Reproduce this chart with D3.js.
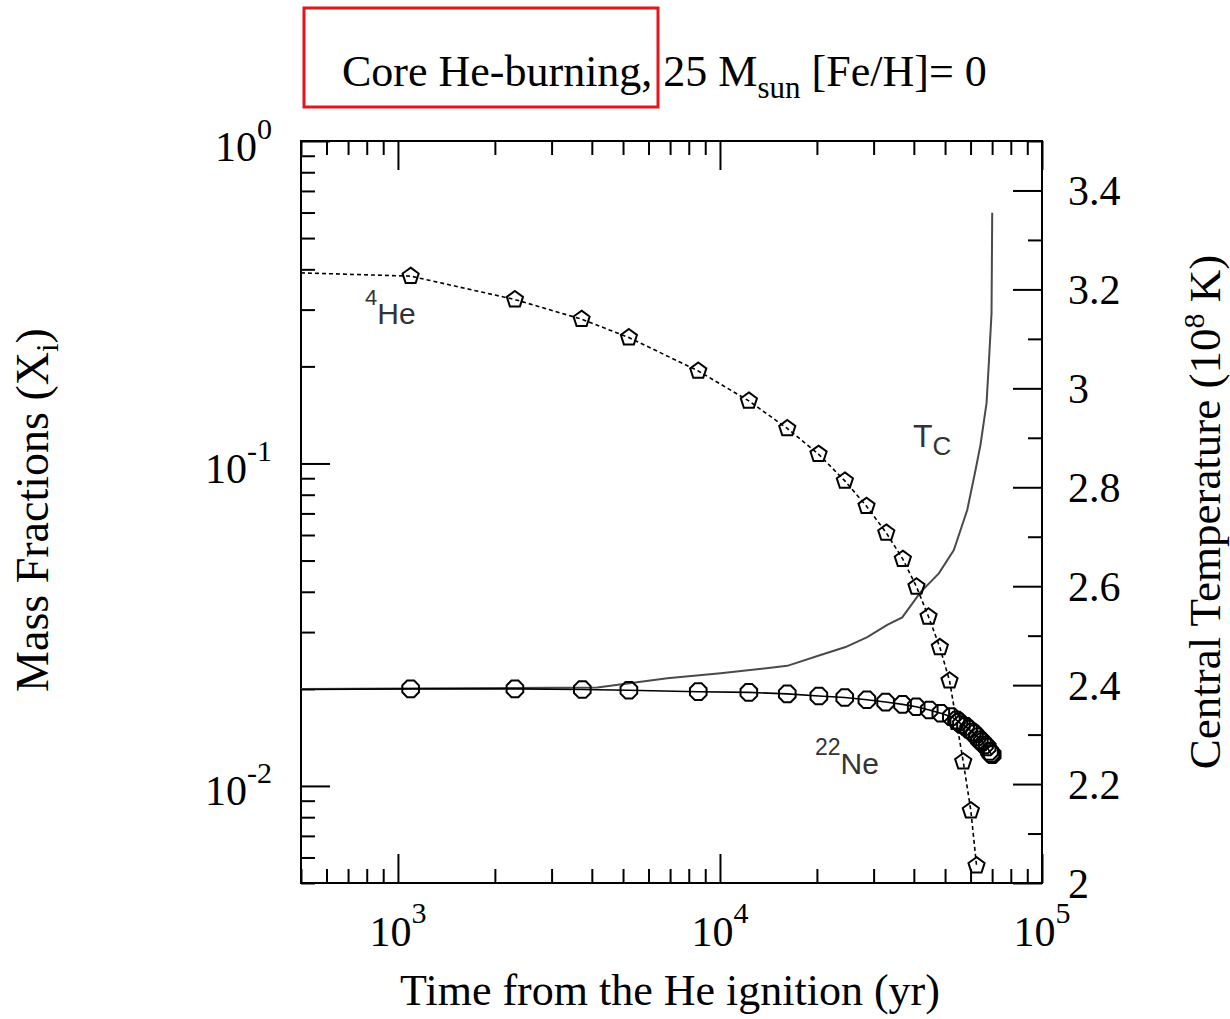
<!DOCTYPE html>
<html>
<head>
<meta charset="utf-8">
<script src="https://cdn.jsdelivr.net/npm/d3@7"></script>
<style>
  body { margin: 0; background: #fff; }
  svg { display: block; background: #fff; }
  .serif { font-family: "Liberation Serif", "Times New Roman", serif; fill: #000; }
  .sans { font-family: "Liberation Sans", Arial, sans-serif; fill: #333; }
  .tick line { stroke: #000; stroke-width: 2; }
  .tick text { display: none; }
</style>
</head>
<body>
<svg id="chart"></svg>
<script>
// values (time in yr)
var heTime = [500, 1095, 2308, 3718, 5214, 8562, 12294, 16181, 20233, 24425, 28521,
  32841, 36968, 40765, 44434, 48170, 51620, 54280, 56940, 60120, 62620];
var heFrac = [0.390, 0.381, 0.3224, 0.2802, 0.2458, 0.1936, 0.1563, 0.1284, 0.1069, 0.0883, 0.0737,
  0.0609, 0.0505, 0.04145, 0.03346, 0.0269, 0.0212, 0.01578, 0.01189, 0.00838, 0.00566];

var neTime = [500, 1095, 2308, 3737, 5214, 8562, 12294, 16181, 20280, 24400, 28590,
  32680, 36890, 40680, 44650, 48510, 52290, 54280, 55170, 56200, 57880, 59150, 60720,
  61700, 62930, 63900, 65220, 66300, 67590, 68700, 69400, 70050];
var neFrac = [0.0199, 0.0200, 0.0200, 0.0199, 0.0198, 0.0196, 0.0195, 0.0193, 0.0190, 0.0188, 0.0185,
  0.0182, 0.0179, 0.0176, 0.0172, 0.0168, 0.0164, 0.0160, 0.0158, 0.0155, 0.0153, 0.0150, 0.0147,
  0.0145, 0.0142, 0.0139, 0.0137, 0.0134, 0.0132, 0.0128, 0.0126, 0.0125];

var tcTime = [500, 4159, 6861, 10044, 16181, 20530, 24550, 28670, 33070, 36810,
  41970, 47830, 53240, 58590, 62170, 64420, 67260, 68380, 69710, 70050];
var tcTemp = [2.392, 2.395, 2.414, 2.424, 2.439, 2.461, 2.477, 2.497, 2.522, 2.537,
  2.588, 2.626, 2.673, 2.754, 2.835, 2.886, 2.970, 3.051, 3.152, 3.355];

var xMajor = [1e3, 1e4, 1e5];
var xExp = ["3", "4", "5"];
var yMajor = [1, 0.1, 0.01];
var yExp = ["0", "-1", "-2"];
var tMajor = [2, 2.2, 2.4, 2.6, 2.8, 3, 3.2, 3.4];
var tLabels = ["2", "2.2", "2.4", "2.6", "2.8", "3", "3.2", "3.4"];

var width = 1230, height = 1019;
var plot = { left: 301, right: 1042, top: 141, bottom: 883 };

var svg = d3.select("#chart")
  .attr("width", width)
  .attr("height", height);

var x = d3.scaleLog().domain([500, 1e5]).range([plot.left, plot.right]);
var y = d3.scaleLog().domain([0.005, 1]).range([plot.bottom, plot.top]);
var yT = d3.scaleLinear().domain([2, 3.5]).range([plot.bottom, plot.top]);

function isDecade(v) {
  var l = Math.log10(v);
  return Math.abs(l - Math.round(l)) < 1e-6;
}
var xMinor = x.ticks().filter(function(v) { return !isDecade(v); });
var yMinor = y.ticks().filter(function(v) { return !isDecade(v); });
var tMinor = yT.ticks(15).filter(function(v) { return Math.round(v * 10) % 2 !== 0; });

function addAxis(axis, tx, ty) {
  var g = svg.append("g")
    .attr("transform", "translate(" + tx + "," + ty + ")")
    .call(axis);
  g.select(".domain").remove();
}

// inside ticks on all four sides
addAxis(d3.axisBottom(x).tickValues(xMajor).tickSize(-29).tickFormat(""), 0, plot.bottom);
addAxis(d3.axisBottom(x).tickValues(xMinor).tickSize(-14).tickFormat(""), 0, plot.bottom);
addAxis(d3.axisTop(x).tickValues(xMajor).tickSize(-29).tickFormat(""), 0, plot.top);
addAxis(d3.axisTop(x).tickValues(xMinor).tickSize(-14).tickFormat(""), 0, plot.top);
addAxis(d3.axisLeft(y).tickValues(yMajor).tickSize(-29).tickFormat(""), plot.left, 0);
addAxis(d3.axisLeft(y).tickValues(yMinor).tickSize(-14).tickFormat(""), plot.left, 0);
addAxis(d3.axisRight(yT).tickValues(tMajor).tickSize(-29).tickFormat(""), plot.right, 0);
addAxis(d3.axisRight(yT).tickValues(tMinor).tickSize(-14).tickFormat(""), plot.right, 0);

svg.append("rect")
  .attr("x", plot.left)
  .attr("y", plot.top)
  .attr("width", plot.right - plot.left)
  .attr("height", plot.bottom - plot.top)
  .attr("fill", "none")
  .attr("stroke", "#000")
  .attr("stroke-width", 2);

svg.append("clipPath").attr("id", "clip")
  .append("rect")
  .attr("x", plot.left)
  .attr("y", plot.top)
  .attr("width", plot.right - plot.left)
  .attr("height", plot.bottom - plot.top);

var area = svg.append("g").attr("clip-path", "url(#clip)");

var lineL = d3.line()
  .x(function(d) { return x(d[0]); })
  .y(function(d) { return y(d[1]); });
var lineT = d3.line()
  .x(function(d) { return x(d[0]); })
  .y(function(d) { return yT(d[1]); });

var he = d3.zip(heTime, heFrac);
var ne = d3.zip(neTime, neFrac);
var tc = d3.zip(tcTime, tcTemp);

area.append("path")
  .attr("d", lineT(tc))
  .attr("fill", "none")
  .attr("stroke", "#4a4a4a")
  .attr("stroke-width", 2);

area.append("path")
  .attr("d", lineL(ne))
  .attr("fill", "none")
  .attr("stroke", "#000")
  .attr("stroke-width", 1.6);

area.append("path")
  .attr("d", lineL(he))
  .attr("fill", "none")
  .attr("stroke", "#000")
  .attr("stroke-width", 1.6)
  .attr("stroke-dasharray", "4,3");

// open polygon markers
function polygon(n, r, rot) {
  var pts = d3.range(n).map(function(i) {
    var a = rot + i * 2 * Math.PI / n;
    return [r * Math.sin(a), -r * Math.cos(a)];
  });
  return d3.line().curve(d3.curveLinearClosed)(pts);
}

area.selectAll(".ne-mark")
  .data(ne.slice(1))
  .enter().append("path")
  .attr("class", "ne-mark")
  .attr("transform", function(d) { return "translate(" + x(d[0]) + "," + y(d[1]) + ")"; })
  .attr("d", polygon(8, 9, Math.PI / 8))
  .attr("fill", "none")
  .attr("stroke", "#000")
  .attr("stroke-width", 2);

area.selectAll(".he-mark")
  .data(he.slice(1))
  .enter().append("path")
  .attr("class", "he-mark")
  .attr("transform", function(d) { return "translate(" + x(d[0]) + "," + y(d[1]) + ")"; })
  .attr("d", polygon(5, 8.5, 0))
  .attr("fill", "none")
  .attr("stroke", "#000")
  .attr("stroke-width", 2);

// tick labels
xMajor.forEach(function(v, i) {
  var t = svg.append("text").attr("class", "serif")
    .attr("x", x(v)).attr("y", 946)
    .attr("text-anchor", "middle")
    .style("font-size", "42px");
  t.append("tspan").text("10");
  t.append("tspan").attr("dy", -23).style("font-size", "30px").text(xExp[i]);
});

yMajor.forEach(function(v, i) {
  var t = svg.append("text").attr("class", "serif")
    .attr("x", 272).attr("y", y(v) + 19.5)
    .attr("text-anchor", "end")
    .style("font-size", "42px");
  t.append("tspan").text("10");
  t.append("tspan").attr("dy", -22).style("font-size", "30px").text(yExp[i]);
});

tMajor.forEach(function(v, i) {
  svg.append("text").attr("class", "serif")
    .attr("x", 1068).attr("y", yT(v) + 15)
    .style("font-size", "42px")
    .text(tLabels[i]);
});

// axis titles
svg.append("text").attr("class", "serif")
  .attr("x", 670).attr("y", 1005)
  .attr("text-anchor", "middle")
  .style("font-size", "44px")
  .text("Time from the He ignition (yr)");

var lt = svg.append("text").attr("class", "serif")
  .attr("transform", "translate(48,510) rotate(-90)")
  .attr("text-anchor", "middle")
  .style("font-size", "46px");
lt.append("tspan").text("Mass Fractions (X");
lt.append("tspan").attr("dy", 10).style("font-size", "31px").text("i");
lt.append("tspan").attr("dy", -10).text(")");

var rt = svg.append("text").attr("class", "serif")
  .attr("transform", "translate(1220,512) rotate(-90)")
  .attr("text-anchor", "middle")
  .style("font-size", "45px");
rt.append("tspan").text("Central Temperature (10");
rt.append("tspan").attr("dy", -16).style("font-size", "30px").text("8");
rt.append("tspan").attr("dy", 16).text(" K)");

// title with red box
svg.append("rect")
  .attr("x", 304).attr("y", 8)
  .attr("width", 354).attr("height", 99)
  .attr("fill", "none")
  .attr("stroke", "#e8141b")
  .attr("stroke-width", 3);

var title = svg.append("text").attr("class", "serif")
  .attr("x", 342).attr("y", 86)
  .style("font-size", "44px");
title.append("tspan").text("Core He-burning, 25 M");
title.append("tspan").attr("dy", 12).style("font-size", "31px").text("sun");
title.append("tspan").attr("dy", -12).text(" [Fe/H]= 0");

// curve labels
var heLab = svg.append("text").attr("class", "sans")
  .attr("x", 365).attr("y", 324)
  .style("font-size", "30px");
heLab.append("tspan").attr("dy", -19).style("font-size", "22px").text("4");
heLab.append("tspan").attr("dy", 19).text("He");

var neLab = svg.append("text").attr("class", "sans")
  .attr("x", 815).attr("y", 774)
  .style("font-size", "30px");
neLab.append("tspan").attr("dy", -19).style("font-size", "23px").text("22");
neLab.append("tspan").attr("dy", 19).text("Ne");

var tcLab = svg.append("text").attr("class", "sans")
  .attr("x", 913).attr("y", 447)
  .style("font-size", "32px");
tcLab.append("tspan").text("T");
tcLab.append("tspan").attr("dy", 8).style("font-size", "26px").text("C");
</script>
</body>
</html>
